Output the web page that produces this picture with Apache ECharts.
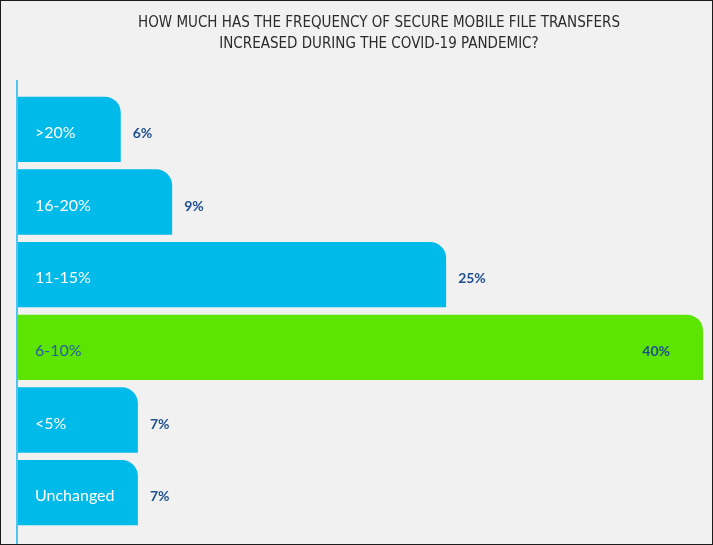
<!DOCTYPE html>
<html>
<head>
<meta charset="utf-8">
<script src="https://cdn.jsdelivr.net/npm/echarts@6/dist/echarts.min.js"></script>
<style>
  html, body { margin: 0; padding: 0; background: #fff; }
  #chart { width: 713px; height: 545px; box-sizing: border-box; border: 1px solid #1b1b1b; background: #f1f1f1; }
</style>
</head>
<body>
<div id="chart"></div>
<script>
// answers, top to bottom
const categories = ['>20%', '16-20%', '11-15%', '6-10%', '<5%', 'Unchanged'];
// share of respondents (%)
const shares = [6, 9, 25, 40, 7, 7];
// the answer drawn in green
const topAnswer = '6-10%';

const blue = '#00baea';
const green = '#5ce500';
const navy = '#1f4f8e';

const chart = echarts.init(document.getElementById('chart'));

const option = {
  backgroundColor: '#f1f1f1',
  title: {
    text: 'HOW MUCH HAS THE FREQUENCY OF SECURE MOBILE FILE TRANSFERS\nINCREASED DURING THE COVID-19 PANDEMIC?',
    left: 373,
    textAlign: 'center',
    top: 7,
    textStyle: {
      fontFamily: 'DejaVu Sans Condensed',
      fontSize: 15,
      fontWeight: 'normal',
      color: '#2b2b2b',
      lineHeight: 21
    }
  },
  grid: { left: 17, right: 9, top: 92, bottom: 15 },
  xAxis: {
    type: 'value',
    min: 0,
    max: 40,
    show: false
  },
  yAxis: {
    type: 'category',
    data: categories,
    inverse: true,
    z: 10,
    axisLine: { show: false },
    axisTick: { show: false },
    splitLine: { show: false },
    axisLabel: {
      inside: true,
      margin: 17,
      fontFamily: 'Lato',
      fontSize: 16,
      formatter: (v) => v === topAnswer ? '{dark|' + v + '}' : '{light|' + v + '}',
      rich: {
        dark: { color: '#2a5ba3', fontFamily: 'Lato', fontSize: 16, padding: [8, 0, 0, 0] },
        light: { color: '#ffffff', fontFamily: 'Lato', fontSize: 16, padding: [7, 0, 0, 0] }
      }
    }
  },
  graphic: [{
    type: 'line',
    shape: { x1: 16, y1: 79, x2: 16, y2: 545 },
    style: { stroke: '#19b6e8', lineWidth: 1.5 }
  }],
  series: [{
    type: 'bar',
    barCategoryGap: '10%',
    data: shares.map((v, i) => ({
      value: v,
      itemStyle: { color: categories[i] === topAnswer ? green : blue },
      label: categories[i] === topAnswer
        ? { position: 'insideRight', distance: 33 }
        : { position: 'right', distance: 12 }
    })),
    itemStyle: { borderRadius: [0, 16, 0, 0] },
    label: {
      show: true,
      formatter: '{c}%',
      fontFamily: 'Lato',
      fontWeight: 'bold',
      fontSize: 14,
      color: navy,
      offset: [0, 4]
    }
  }]
};

chart.setOption(option);
</script>
</body>
</html>
